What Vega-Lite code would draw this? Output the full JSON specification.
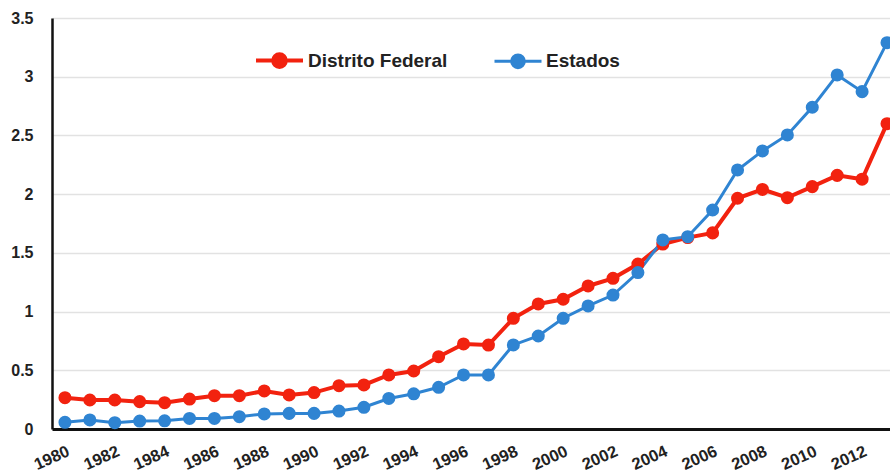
{
  "$schema": "https://vega.github.io/schema/vega-lite/v6.json",
  "width": 838,
  "height": 411,
  "autosize": "none",
  "padding": {"left": 52, "top": 18, "right": 0, "bottom": 44},
  "background": "white",
  "config": {
    "view": {"stroke": null},
    "font": "Liberation Sans",
    "axis": {"labelFont": "Liberation Sans", "labelFontWeight": "bold", "labelColor": "#222222", "labelFontSize": 16, "ticks": false, "title": null}
  },
  "data": {
    "values": [
      {"year": 1980, "serie": "Distrito Federal", "value": 0.267},
      {"year": 1981, "serie": "Distrito Federal", "value": 0.247},
      {"year": 1982, "serie": "Distrito Federal", "value": 0.247},
      {"year": 1983, "serie": "Distrito Federal", "value": 0.233},
      {"year": 1984, "serie": "Distrito Federal", "value": 0.224},
      {"year": 1985, "serie": "Distrito Federal", "value": 0.255},
      {"year": 1986, "serie": "Distrito Federal", "value": 0.284},
      {"year": 1987, "serie": "Distrito Federal", "value": 0.284},
      {"year": 1988, "serie": "Distrito Federal", "value": 0.324},
      {"year": 1989, "serie": "Distrito Federal", "value": 0.29},
      {"year": 1990, "serie": "Distrito Federal", "value": 0.31},
      {"year": 1991, "serie": "Distrito Federal", "value": 0.369},
      {"year": 1992, "serie": "Distrito Federal", "value": 0.375},
      {"year": 1993, "serie": "Distrito Federal", "value": 0.46},
      {"year": 1994, "serie": "Distrito Federal", "value": 0.494},
      {"year": 1995, "serie": "Distrito Federal", "value": 0.616},
      {"year": 1996, "serie": "Distrito Federal", "value": 0.724},
      {"year": 1997, "serie": "Distrito Federal", "value": 0.715},
      {"year": 1998, "serie": "Distrito Federal", "value": 0.943},
      {"year": 1999, "serie": "Distrito Federal", "value": 1.065},
      {"year": 2000, "serie": "Distrito Federal", "value": 1.105},
      {"year": 2001, "serie": "Distrito Federal", "value": 1.218},
      {"year": 2002, "serie": "Distrito Federal", "value": 1.283},
      {"year": 2003, "serie": "Distrito Federal", "value": 1.405},
      {"year": 2004, "serie": "Distrito Federal", "value": 1.575},
      {"year": 2005, "serie": "Distrito Federal", "value": 1.63},
      {"year": 2006, "serie": "Distrito Federal", "value": 1.67},
      {"year": 2007, "serie": "Distrito Federal", "value": 1.965},
      {"year": 2008, "serie": "Distrito Federal", "value": 2.04},
      {"year": 2009, "serie": "Distrito Federal", "value": 1.97},
      {"year": 2010, "serie": "Distrito Federal", "value": 2.064},
      {"year": 2011, "serie": "Distrito Federal", "value": 2.16},
      {"year": 2012, "serie": "Distrito Federal", "value": 2.127},
      {"year": 2013, "serie": "Distrito Federal", "value": 2.6},
      {"year": 1980, "serie": "Estados", "value": 0.057},
      {"year": 1981, "serie": "Estados", "value": 0.077},
      {"year": 1982, "serie": "Estados", "value": 0.054},
      {"year": 1983, "serie": "Estados", "value": 0.068},
      {"year": 1984, "serie": "Estados", "value": 0.07},
      {"year": 1985, "serie": "Estados", "value": 0.09},
      {"year": 1986, "serie": "Estados", "value": 0.09},
      {"year": 1987, "serie": "Estados", "value": 0.105},
      {"year": 1988, "serie": "Estados", "value": 0.128},
      {"year": 1989, "serie": "Estados", "value": 0.133},
      {"year": 1990, "serie": "Estados", "value": 0.133},
      {"year": 1991, "serie": "Estados", "value": 0.153},
      {"year": 1992, "serie": "Estados", "value": 0.185},
      {"year": 1993, "serie": "Estados", "value": 0.26},
      {"year": 1994, "serie": "Estados", "value": 0.3},
      {"year": 1995, "serie": "Estados", "value": 0.355},
      {"year": 1996, "serie": "Estados", "value": 0.46},
      {"year": 1997, "serie": "Estados", "value": 0.46},
      {"year": 1998, "serie": "Estados", "value": 0.716},
      {"year": 1999, "serie": "Estados", "value": 0.792},
      {"year": 2000, "serie": "Estados", "value": 0.943},
      {"year": 2001, "serie": "Estados", "value": 1.048},
      {"year": 2002, "serie": "Estados", "value": 1.141},
      {"year": 2003, "serie": "Estados", "value": 1.332},
      {"year": 2004, "serie": "Estados", "value": 1.61},
      {"year": 2005, "serie": "Estados", "value": 1.638},
      {"year": 2006, "serie": "Estados", "value": 1.865},
      {"year": 2007, "serie": "Estados", "value": 2.206},
      {"year": 2008, "serie": "Estados", "value": 2.368},
      {"year": 2009, "serie": "Estados", "value": 2.504},
      {"year": 2010, "serie": "Estados", "value": 2.74},
      {"year": 2011, "serie": "Estados", "value": 3.015},
      {"year": 2012, "serie": "Estados", "value": 2.873},
      {"year": 2013, "serie": "Estados", "value": 3.29}
    ]
  },
  "encoding": {
    "x": {
      "field": "year", "type": "quantitative",
      "scale": {"domain": [1979.48, 2013.12], "nice": false, "zero": false},
      "axis": {
        "values": [1980, 1982, 1984, 1986, 1988, 1990, 1992, 1994, 1996, 1998, 2000, 2002, 2004, 2006, 2008, 2010, 2012],
        "format": "d", "labelAngle": -24, "labelAlign": "right", "labelBaseline": "top",
        "labelPadding": 14, "labelDx": -2, "grid": false, "domainColor": "#111111", "domainWidth": 3, "labelFontSize": 16.5, "labelOverlap": false
      }
    },
    "y": {
      "field": "value", "type": "quantitative",
      "scale": {"domain": [0, 3.5], "nice": false},
      "axis": {
        "values": [0, 0.5, 1, 1.5, 2, 2.5, 3, 3.5], "format": "~g",
        "labelPadding": 19, "grid": true, "gridColor": "#e2e2e2", "gridWidth": 1.5,
        "domainColor": "#111111", "domainWidth": 2.5
      }
    },
    "color": {
      "field": "serie", "type": "nominal",
      "scale": {"domain": ["Distrito Federal", "Estados"], "range": ["#f2220f", "#2f84d2"]},
      "legend": {
        "title": null, "orient": "none", "legendX": 202, "legendY": 17, "direction": "horizontal",
        "symbolType": "M-1,0L-0.27,0A0.27,0.27,0,1,1,0.27,0A0.27,0.27,0,1,1,-0.27,0M0.27,0L1,0",
        "symbolSize": 2209, "symbolStrokeWidth": 3.5,
        "labelFont": "Liberation Sans", "labelFontWeight": "bold", "labelFontSize": 19, "labelColor": "#222222",
        "labelOffset": 3, "columnPadding": 40,
        "encode": {"symbols": {"update": {"fill": {"scale": "color", "field": "value"}, "stroke": {"scale": "color", "field": "value"}, "fillOpacity": {"value": 1}, "strokeWidth": {"value": 3.5}}}}
      }
    }
  },
  "layer": [
    {
      "mark": {"type": "line"},
      "encoding": {
        "strokeWidth": {"field": "serie", "type": "nominal", "scale": {"domain": ["Distrito Federal", "Estados"], "range": [4, 3]}, "legend": null}
      }
    },
    {
      "mark": {"type": "point", "filled": true, "opacity": 1, "size": 170}
    }
  ]
}
